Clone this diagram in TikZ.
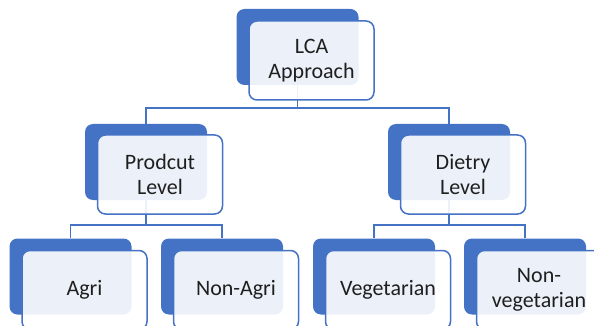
\documentclass[tikz,border=0pt]{standalone}
\usepackage{fontspec}
\setmainfont{Carlito}
\definecolor{obl}{HTML}{4472C4}
\begin{document}
\begin{tikzpicture}[x=1pt,y=-1pt,
  backbox/.style={fill=obl,draw=none,rounded corners=8pt,minimum width=122pt,minimum height=76pt,inner sep=0pt},
  frontbox/.style={fill=white,fill opacity=0.9,draw=obl,draw opacity=1,line width=1.5pt,rounded corners=8pt,minimum width=125pt,minimum height=79pt,inner sep=0pt,align=center,text opacity=1,font=\fontsize{22}{24.5}\selectfont,text=black!88},
  conn/.style={draw=obl,line width=1.4pt}]
\useasboundingbox (0,0) rectangle (594,326);
\clip (0,0) rectangle (594,326);
% back boxes
\node[backbox] (b0) at (297.5,47) {};
\node[backbox] (b1) at (146,162) {};
\node[backbox] (b2) at (449,162) {};
\node[backbox] (b3) at (70.5,276.5) {};
\node[backbox] (b4) at (222,276.5) {};
\node[backbox] (b5) at (374,276.5) {};
\node[backbox] (b6) at (525,276.5) {};
% bus coordinates
\coordinate (bus0) at (0,108);
\coordinate (bus1) at (0,225);
% connectors
\draw[conn] (b0.south) -- (b0.south|-bus0) -| (b1.north);
\draw[conn] (b0.south|-bus0) -| (b2.north);
\draw[conn] (b1.south) -- (b1.south|-bus1) -| (b3.north);
\draw[conn] (b1.south|-bus1) -| (b4.north);
\draw[conn] (b2.south) -- (b2.south|-bus1) -| (b5.north);
\draw[conn] (b2.south|-bus1) -| (b6.north);
% front boxes
\node[frontbox] (f0) at (311.5,60.5) {LCA\\Approach};
\node[frontbox] (f1) at (160,174.5) {Prodcut\\Level};
\node[frontbox] (f2) at (463,174.5) {Dietry\\Level};
\node[frontbox] (f3) at (84.5,290) {Agri};
\node[frontbox] (f4) at (236,290) {Non-Agri};
\node[frontbox] (f5) at (388,290) {Vegetarian};
\node[frontbox] (f6) at (539,290) {Non-\\vegetarian};
\end{tikzpicture}
\end{document}
